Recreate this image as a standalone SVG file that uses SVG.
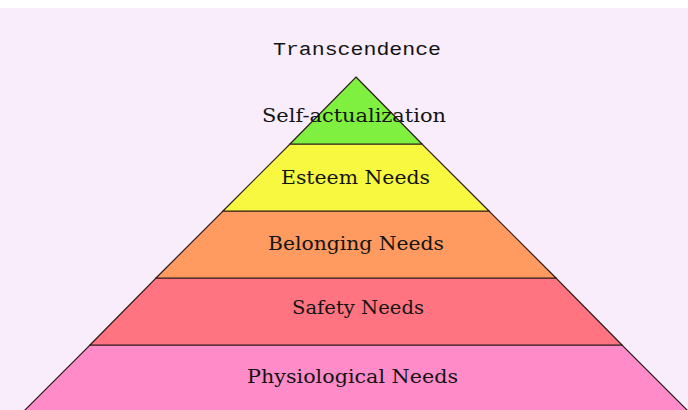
<svg xmlns="http://www.w3.org/2000/svg" width="688" height="410" viewBox="0 0 688 410">
  <style>
    .tier { stroke: #2a1a1a; stroke-width: 1.2; stroke-linejoin: miter; }
    .lbl { font-family: "DejaVu Serif", "Liberation Serif", serif; font-size: 19px; fill: #141414; }
    .mono { font-family: "Liberation Mono", "DejaVu Sans Mono", monospace; font-size: 19px; fill: #141414; }
  </style>
  <!-- page background -->
  <rect x="0" y="0" width="688" height="410" fill="#ffffff"/>
  <rect x="0" y="8" width="688" height="402" fill="#f9ecfb"/>

  <g id="connectors"></g>

  <g id="tier-transcendence">
    <text class="mono" x="273" y="55" textLength="168" lengthAdjust="spacingAndGlyphs">Transcendence</text>
  </g>

  <g id="tier-physiological">
    <polygon class="tier" fill="#ff8cc8" points="90,345 622,345 689,412 23,412"/>
    <text class="lbl" x="247" y="383" textLength="211" lengthAdjust="spacingAndGlyphs" fill="#2a0a1a">Physiological Needs</text>
  </g>

  <g id="tier-safety">
    <polygon class="tier" fill="#ff7480" points="156,278 556,278 622,345 90,345"/>
    <text class="lbl" x="292" y="314" textLength="132" lengthAdjust="spacingAndGlyphs">Safety Needs</text>
  </g>

  <g id="tier-belonging">
    <polygon class="tier" fill="#ff9a60" points="223,211 489,211 556,278 156,278"/>
    <text class="lbl" x="268" y="250" textLength="176" lengthAdjust="spacingAndGlyphs" fill="#3a2a00">Belonging Needs</text>
  </g>

  <g id="tier-esteem">
    <polygon class="tier" fill="#f8f840" points="290,144 422,144 489,211 223,211"/>
    <text class="lbl" x="281" y="184" textLength="149" lengthAdjust="spacingAndGlyphs">Esteem Needs</text>
  </g>

  <g id="tier-self-actualization">
    <polygon class="tier" fill="#80f040" points="356,77 422,144 290,144"/>
    <text class="lbl" x="262" y="122" textLength="184" lengthAdjust="spacingAndGlyphs">Self-actualization</text>
  </g>
</svg>
